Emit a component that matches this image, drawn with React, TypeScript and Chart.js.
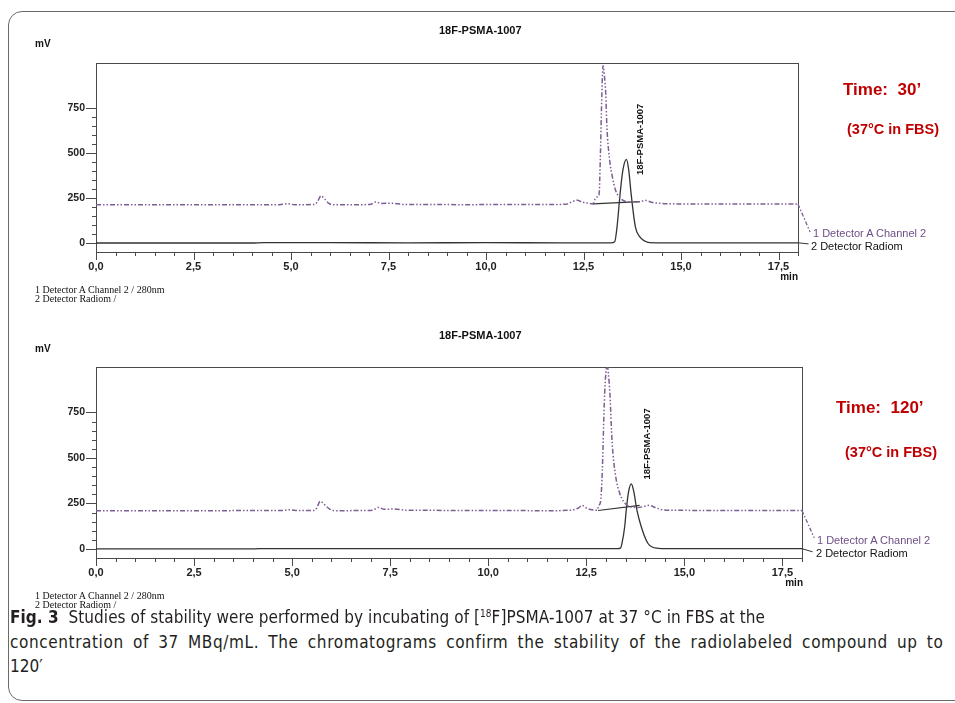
import React, { useEffect, useRef } from "react";
import { Chart, registerables } from "chart.js";
Chart.register(...registerables);

const FONT = '"Liberation Sans", Arial, sans-serif';
const SERIF = '"Liberation Serif", "Times New Roman", serif';
const CAPTION_FONT = '"Liberation Sans Narrow", "DejaVu Sans Condensed", "Open Sans", sans-serif';

// ---------- data ----------
const xMajorTicks = [0, 2.5, 5, 7.5, 10, 12.5, 15, 17.5];
const yTickLabels = [0, 250, 500, 750];

// Time 30'
const uv30Time = [0, 1, 2, 3, 4, 4.7, 4.9, 5.1, 5.6, 5.68, 5.77, 5.87, 5.97, 6.1, 6.8, 7.05, 7.17, 7.3, 7.6, 7.9, 8.5, 9.5, 10.5, 11.5, 12.05, 12.15, 12.35, 12.45, 12.6, 12.74, 12.8, 12.86, 12.9, 12.93, 12.97, 13.0, 13.04, 13.07, 13.1, 13.17, 13.24, 13.32, 13.41, 13.6, 13.8, 13.95, 14.1, 14.25, 14.5, 15, 16, 17, 18];
const uv30Signal = [212, 212, 212, 212, 213, 213, 218, 213, 214, 230, 262, 243, 220, 212, 213, 215, 228, 220, 221, 214, 214, 213, 214, 214, 215, 224, 238, 228, 222, 217, 245, 257, 270, 461, 820, 985, 920, 832, 646, 461, 368, 294, 257, 230, 228, 230, 236, 226, 220, 217, 216, 216, 216];
const rad30Time = [0, 4, 4.3, 6, 8, 10, 12, 13.2, 13.3, 13.36, 13.44, 13.51, 13.6, 13.66, 13.72, 13.83, 13.94, 14.07, 14.19, 14.6, 16, 18];
const rad30Signal = [0, 0, 2, 2, 1, 2, 1, 1, 7, 90, 276, 405, 465, 405, 276, 90, 35, 11, 2, 1, 1, 1];
const base30Time = [12.74, 13.95];
const base30Signal = [217, 230];

// Time 120'
const uv120Time = [0, 1, 2, 3, 4, 4.7, 4.95, 5.15, 5.55, 5.62, 5.72, 5.82, 5.95, 6.1, 6.8, 7.05, 7.2, 7.35, 7.6, 7.9, 8.5, 9.5, 10.5, 11.5, 12.1, 12.3, 12.4, 12.5, 12.65, 12.78, 12.82, 12.86, 12.9, 12.97, 13.03, 13.1, 13.16, 13.25, 13.35, 13.45, 13.6, 13.8, 13.95, 14.1, 14.25, 14.45, 15, 16, 17, 18];
const uv120Signal = [210, 210, 210, 210, 211, 211, 215, 211, 211, 222, 262, 245, 220, 210, 211, 213, 228, 218, 219, 213, 212, 211, 211, 210, 213, 225, 239, 225, 215, 213, 240, 255, 380, 860, 1008, 860, 583, 399, 307, 261, 233, 228, 232, 240, 228, 215, 212, 211, 211, 211];
const rad120Time = [0, 4, 4.3, 6, 8, 10, 12, 13.3, 13.37, 13.41, 13.48, 13.52, 13.58, 13.65, 13.71, 13.79, 13.9, 14.07, 14.29, 14.6, 16, 18];
const rad120Signal = [0, 0, 2, 2, 1, 2, 1, 1, 4, 31, 123, 215, 316, 357, 316, 215, 123, 31, 4, 1, 1, 1];
const base120Time = [12.8, 13.86];
const base120Signal = [211, 239];

// leader lines from trace ends to the trace names
const leaderUvTime = [18, 18.31];
const leaderUv30 = [216, 61];
const leaderUv120 = [211, 61];
const leaderRadTime = [18, 18.27];
const leaderRad30 = [1, -5];
const leaderRad120 = [1, -16];

const pts = (t: number[], v: number[]) => t.map((x, i) => ({ x, y: v[i] }));
const isMult = (v: number, m: number) => Math.abs(v / m - Math.round(v / m)) < 1e-6;

const framePlugin = {
  id: "frameTicks",
  beforeDatasetsDraw(chart: any) {
    const { ctx, chartArea: a, scales } = chart;
    ctx.save();
    ctx.strokeStyle = "#4a4a4a";
    ctx.lineWidth = 1;
    ctx.strokeRect(a.left + 0.5, a.top + 0.5, a.right - a.left, a.bottom - a.top);
    const xs = scales.x;
    for (const t of xs.ticks) {
      const px = Math.round(xs.getPixelForValue(t.value)) + 0.5;
      const major = isMult(t.value, 2.5);
      ctx.beginPath();
      ctx.moveTo(px, a.bottom);
      ctx.lineTo(px, a.bottom + (major ? 8 : 4));
      ctx.stroke();
    }
    const ys = scales.y;
    for (const t of ys.ticks) {
      if (t.value < 0 || t.value > 750) continue;
      const py = Math.round(ys.getPixelForValue(t.value)) + 0.5;
      const major = isMult(t.value, 250);
      ctx.beginPath();
      ctx.moveTo(a.left, py);
      ctx.lineTo(a.left - (major ? 10 : 4), py);
      ctx.stroke();
    }
    ctx.restore();
  },
  afterDatasetsDraw(chart: any, _args: any, opts: any) {
    if (!opts || !opts.text) return;
    const { ctx, scales } = chart;
    const px = scales.x.getPixelForValue(opts.x);
    const py = scales.y.getPixelForValue(opts.y);
    ctx.save();
    ctx.translate(px, py);
    ctx.rotate(-Math.PI / 2);
    ctx.font = "bold 9.5px " + FONT;
    ctx.fillStyle = "#111";
    ctx.textAlign = "left";
    ctx.textBaseline = "middle";
    ctx.fillText(opts.text, 0, 0);
    ctx.restore();
  },
};

type Props = {
  top: number;
  padTop: number;
  padRight: number;
  uvT: number[];
  uvV: number[];
  radT: number[];
  radV: number[];
  baseT: number[];
  baseV: number[];
  leadUv: number[];
  leadRad: number[];
  labelX: number;
  labelY: number;
};

function ChromChart(p: Props) {
  const ref = useRef<HTMLCanvasElement | null>(null);
  useEffect(() => {
    if (!ref.current) return;
    const purple = "#7e5e93";
    const chart = new Chart(ref.current, {
      type: "line",
      data: {
        datasets: [
          {
            data: pts(p.uvT, p.uvV),
            borderColor: purple,
            borderWidth: 1.5,
            borderDash: [5, 2, 1.5, 2, 1.5, 2],
            pointRadius: 0,
            cubicInterpolationMode: "monotone",
          },
          {
            data: pts(p.radT, p.radV),
            borderColor: "#333",
            borderWidth: 1.3,
            pointRadius: 0,
            cubicInterpolationMode: "monotone",
          },
          {
            data: pts(p.baseT, p.baseV),
            borderColor: "#333",
            borderWidth: 1.2,
            pointRadius: 0,
          },
          {
            data: pts(leaderUvTime, p.leadUv),
            borderColor: purple,
            borderWidth: 1.3,
            borderDash: [4, 2, 1.5, 2],
            pointRadius: 0,
            clip: false,
          },
          {
            data: pts(leaderRadTime, p.leadRad),
            borderColor: "#333",
            borderWidth: 1,
            pointRadius: 0,
            clip: false,
          },
        ] as any,
      },
      options: {
        animation: false,
        responsive: false,
        events: [],
        layout: { padding: { top: p.padTop, right: p.padRight, left: 0, bottom: 0 } },
        scales: {
          x: {
            type: "linear",
            min: 0,
            max: 18,
            grid: { display: false },
            border: { display: false },
            afterFit: (s: any) => {
              s.height = 48;
            },
            ticks: {
              stepSize: 0.5,
              autoSkip: false,
              maxRotation: 0,
              minRotation: 0,
              padding: 0,
              color: "#222",
              font: { family: FONT, size: 11, weight: "bold" },
              callback: (v: any) => {
                const n = Number(v);
                return xMajorTicks.some((m) => Math.abs(m - n) < 1e-6) ? n.toFixed(1).replace(".", ",") : "";
              },
            },
          },
          y: {
            type: "linear",
            min: -50,
            max: 1000,
            grid: { display: false },
            border: { display: false },
            afterFit: (s: any) => {
              s.width = 96;
            },
            ticks: {
              stepSize: 50,
              autoSkip: false,
              padding: 3,
              color: "#222",
              font: { family: FONT, size: 10.5, weight: "bold" },
              callback: (v: any) => (yTickLabels.includes(Number(v)) ? String(v) : ""),
            },
          },
        },
        plugins: {
          legend: { display: false },
          tooltip: { enabled: false },
          frameTicks: { text: "18F-PSMA-1007", x: p.labelX, y: p.labelY },
        } as any,
      },
      plugins: [framePlugin],
    } as any);
    return () => chart.destroy();
  }, []);
  return (
    <div style={{ position: "absolute", left: 0, top: p.top, width: 955, height: 300 }}>
      <canvas ref={ref} width={955} height={300} style={{ display: "block" }} />
    </div>
  );
}

function T(props: { x: number; y: number; size: number; children: any; bold?: boolean; color?: string; family?: string; right?: boolean }) {
  const s: any = {
    position: "absolute",
    top: props.y - 0.49 * props.size,
    fontSize: props.size,
    lineHeight: 1,
    fontFamily: props.family || FONT,
    fontWeight: props.bold ? "bold" : "normal",
    color: props.color || "#111",
    whiteSpace: "nowrap",
  };
  if (props.right) s.right = 955 - props.x;
  else s.left = props.x;
  return <div style={s}>{props.children}</div>;
}

export default function App() {
  const red = "#c00000";
  const purpleText = "#6e4f86";
  const cap: any = { position: "absolute", left: 10, fontFamily: CAPTION_FONT, fontSize: 17, lineHeight: "17px", color: "#231f20", whiteSpace: "nowrap" };
  return (
    <div style={{ position: "absolute", left: 0, top: 0, width: 955, height: 703, overflow: "hidden", background: "#fff" }}>
      <div
        style={{
          position: "absolute",
          left: 8,
          top: 11,
          width: 1000,
          height: 688,
          border: "1.5px solid #6a6a6a",
          borderRadius: 14,
        }}
      />
      <ChromChart top={0} padTop={63} padRight={157} uvT={uv30Time} uvV={uv30Signal} radT={rad30Time} radV={rad30Signal} baseT={base30Time} baseV={base30Signal} leadUv={leaderUv30} leadRad={leaderRad30} labelX={13.95} labelY={378} />
      <ChromChart top={306} padTop={61} padRight={153} uvT={uv120Time} uvV={uv120Signal} radT={rad120Time} radV={rad120Signal} baseT={base120Time} baseV={base120Signal} leadUv={leaderUv120} leadRad={leaderRad120} labelX={14.06} labelY={381} />

      {/* top panel texts */}
      <T x={439} y={30} size={11} bold>18F-PSMA-1007</T>
      <T x={35} y={43.5} size={10} bold>mV</T>
      <T x={843} y={89} size={17} bold color={red}>Time:&nbsp; 30’</T>
      <T x={847} y={129} size={14.5} bold color={red}>(37°C in FBS)</T>
      <T x={813} y={233} size={11} color={purpleText}>1 Detector A Channel 2</T>
      <T x={811} y={246.5} size={11} color="#111">2 Detector Radiom</T>
      <T x={798} y={277} size={10} bold right>min</T>
      <T x={35} y={290} size={10} family={SERIF}>1 Detector A Channel 2 / 280nm</T>
      <T x={35} y={299} size={10} family={SERIF}>2 Detector Radiom /</T>

      {/* bottom panel texts */}
      <T x={439} y={335} size={11} bold>18F-PSMA-1007</T>
      <T x={35} y={349} size={10} bold>mV</T>
      <T x={836} y={407} size={17} bold color={red}>Time:&nbsp; 120’</T>
      <T x={845} y={452} size={14.5} bold color={red}>(37°C in FBS)</T>
      <T x={817} y={540} size={11} color={purpleText}>1 Detector A Channel 2</T>
      <T x={816} y={553} size={11} color="#111">2 Detector Radiom</T>
      <T x={803} y={583} size={10} bold right>min</T>
      <T x={35} y={596} size={10} family={SERIF}>1 Detector A Channel 2 / 280nm</T>
      <T x={35} y={605} size={10} family={SERIF}>2 Detector Radiom /</T>

      {/* caption */}
      <div style={{ ...cap, top: 609, letterSpacing: "0.05px" }}>
        <b>Fig. 3</b>&nbsp; Studies of stability were performed by incubating of [<span style={{ position: "relative", top: -6, fontSize: 10 }}>18</span>F]PSMA-1007 at 37 °C in FBS at the
      </div>
      <div style={{ ...cap, top: 634, letterSpacing: "0.6px", wordSpacing: "3.8px" }}>
        concentration of 37 MBq/mL. The chromatograms confirm the stability of the radiolabeled compound up to
      </div>
      <div style={{ ...cap, top: 658 }}>120′</div>
    </div>
  );
}
